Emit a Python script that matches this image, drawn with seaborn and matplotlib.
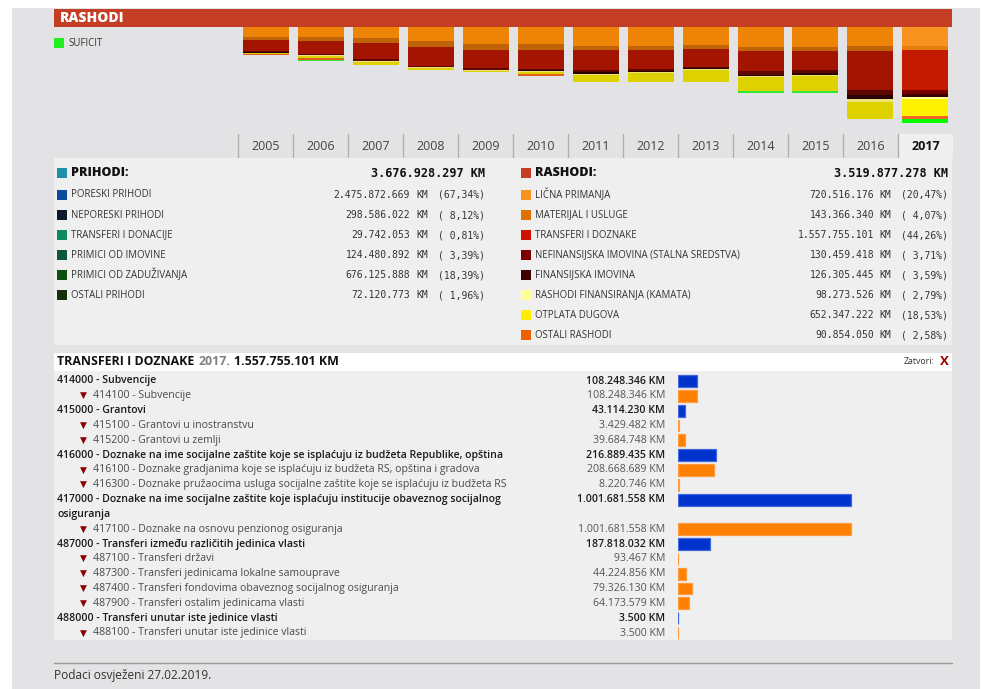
import numpy as np
import pandas as pd
import matplotlib
matplotlib.use("Agg")
import matplotlib.pyplot as plt
from matplotlib.patches import Rectangle
from matplotlib.lines import Line2D
import seaborn as sns

# ---------------- data ----------------
years = ["2005", "2006", "2007", "2008", "2009", "2010", "2011",
         "2012", "2013", "2014", "2015", "2016", "2017"]
selected_year = "2017"

# expenditure components per year (billion KM), stacked top -> bottom
licna_primanja = [0.37, 0.37, 0.43, 0.52, 0.65, 0.65, 0.72, 0.73, 0.69, 0.755, 0.755, 0.715, 0.7205]
materijal = [0.13, 0.15, 0.19, 0.23, 0.23, 0.23, 0.165, 0.16, 0.15, 0.15, 0.15, 0.19, 0.1434]
transferi = [0.42, 0.52, 0.61, 0.73, 0.71, 0.73, 0.75, 0.73, 0.70, 0.78, 0.74, 1.505, 1.5578]
nefinansijska = [0.05, 0.04, 0.065, 0.04, 0.05, 0.05, 0.10, 0.08, 0.05, 0.15, 0.115, 0.19, 0.1305]
finansijska = [0.01, 0.01, 0.02, 0.01, 0.01, 0.03, 0.06, 0.03, 0.015, 0.04, 0.06, 0.165, 0.1263]
kamata = [0.02, 0.03, 0.04, 0.04, 0.03, 0.03, 0.04, 0.04, 0.04, 0.05, 0.06, 0.09, 0.0983]
otplata = [0.03, 0.05, 0.10, 0.065, 0.05, 0.065, 0.29, 0.345, 0.45, 0.52, 0.575, 0.665, 0.6523]
ostali = [0.05, 0.08, 0.01, 0.0, 0.0, 0.10, 0.0, 0.0, 0.0, 0.0, 0.0, 0.0, 0.0909]
suficit = [0.0, 0.04, 0.0, 0.0, 0.0, 0.0, 0.0, 0.0, 0.0, 0.065, 0.065, 0.0, 0.1571]

prihodi_labels = ["PORESKI PRIHODI", "NEPORESKI PRIHODI", "TRANSFERI I DONACIJE",
                  "PRIMICI OD IMOVINE", "PRIMICI OD ZADUŽIVANJA", "OSTALI PRIHODI"]
prihodi_values = [2475872669, 298586022, 29742053, 124480892, 676125888, 72120773]

rashodi_labels = ["LIČNA PRIMANJA", "MATERIJAL I USLUGE", "TRANSFERI I DOZNAKE",
                  "NEFINANSIJSKA IMOVINA (STALNA SREDSTVA)", "FINANSIJSKA IMOVINA",
                  "RASHODI FINANSIRANJA (KAMATA)", "OTPLATA DUGOVA", "OSTALI RASHODI"]
rashodi_values = [720516176, 143366340, 1557755101, 130459418, 126305445,
                  98273526, 652347222, 90854050]

detail_title = "TRANSFERI I DOZNAKE"
detail_total = 1557755101
tr_labels = [
    "414000 - Subvencije",
    "414100 - Subvencije",
    "415000 - Grantovi",
    "415100 - Grantovi u inostranstvu",
    "415200 - Grantovi u zemlji",
    "416000 - Doznake na ime socijalne zaštite koje se isplaćuju iz budžeta Republike, opština",
    "416100 - Doznake gradjanima koje se isplaćuju iz budžeta RS, opština i gradova",
    "416300 - Doznake pružaocima usluga socijalne zaštite koje se isplaćuju iz budžeta RS",
    "417000 - Doznake na ime socijalne zaštite koje isplaćuju institucije obaveznog socijalnog\nosiguranja",
    "417100 - Doznake na osnovu penzionog osiguranja",
    "487000 - Transferi između različitih jedinica vlasti",
    "487100 - Transferi državi",
    "487300 - Transferi jedinicama lokalne samouprave",
    "487400 - Transferi fondovima obaveznog socijalnog osiguranja",
    "487900 - Transferi ostalim jedinicama vlasti",
    "488000 - Transferi unutar iste jedinice vlasti",
    "488100 - Transferi unutar iste jedinice vlasti",
]
tr_values = [108248346, 108248346, 43114230, 3429482, 39684748, 216889435, 208668689,
             8220746, 1001681558, 1001681558, 187818032, 93467, 44224856, 79326130,
             64173579, 3500, 3500]
tr_levels = ["group", "item", "group", "item", "item", "group", "item", "item",
             "group", "item", "group", "item", "item", "item", "item", "group", "item"]

# ---------------- style ----------------
sns.set_theme(style="white")
plt.rcParams["font.family"] = ["Open Sans", "DejaVu Sans"]
MONO = ["DejaVu Sans Mono"]

W, H = 982, 689
fig = plt.figure(figsize=(W / 100, H / 100), dpi=100)
fig.patch.set_facecolor("white")


def fx(x):
    return x / W


def fy(y):
    return 1 - y / H


def rect(x0, y0, x1, y1, color, z=-5):
    fig.patches.append(Rectangle((fx(x0), fy(y1)), (x1 - x0) / W, (y1 - y0) / H,
                                 transform=fig.transFigure, facecolor=color,
                                 edgecolor="none", zorder=z))


def ftext(x, y, s, **kw):
    kw.setdefault("va", "center")
    return fig.text(fx(x), fy(y), s, **kw)


def fmt(v):
    return f"{v:,}".replace(",", ".")


def pct(v, tot):
    p = f"{v / tot * 100:5.2f}".replace(".", ",")
    return f"({p}%)"


# background panels
rect(12, 8, 980, 689, "#e3e3e5", z=-10)
rect(54, 9, 952, 27, "#c43e25")
ftext(60, 18.5, "RASHODI", color="white", fontsize=10, fontweight="heavy")
rect(54, 38, 64, 48, "#22ee22")
ftext(68, 43.5, "SUFICIT", color="#333333", fontsize=6.9)

# ---------------- top stacked bars ----------------
comps = [licna_primanja, materijal, transferi, nefinansijska, finansijska,
         kamata, otplata, ostali, suficit]
dim_colors = ["#ee8406", "#bf6208", "#a31500", "#5e0600", "#2a0000",
              "#ece27a", "#ddd200", "#e0601a", "#33e633"]
sel_colors = ["#f7931e", "#e57c10", "#c41a00", "#7a0000", "#3a0000",
              "#ffff99", "#fff200", "#f26522", "#00ff00"]
cum = np.cumsum(np.array(comps), axis=0)
px_per_bn = 26.1
top_y0, top_y1 = 27, 132
axt = fig.add_axes([fx(238), fy(top_y1), 715 / W, (top_y1 - top_y0) / H])
for k in reversed(range(len(comps))):
    dfk = pd.DataFrame({"year": years, "cum": cum[k]})
    pal = {y: (sel_colors[k] if y == selected_year else dim_colors[k]) for y in years}
    sns.barplot(data=dfk, x="year", y="cum", hue="year", palette=pal, order=years,
                hue_order=years, legend=False, width=46 / 55, errorbar=None,
                linewidth=0, ax=axt, saturation=1)
axt.set_xlim(-0.5, len(years) - 0.5)
axt.set_ylim((top_y1 - top_y0) / px_per_bn, 0)
axt.axis("off")
axt.patch.set_alpha(0)

# year row
rect(898, 134, 953, 158, "#efefef")
for i, y in enumerate(years):
    xl = 238 + 55 * i
    fig.add_artist(Line2D([fx(xl), fx(xl)], [fy(134), fy(157)], color="#b0b0b0", lw=1))
    sel = y == selected_year
    ftext(xl + 27.5, 146, y, ha="center", fontsize=9,
          color="#111111" if sel else "#444444", fontweight="bold" if sel else "normal")

# ---------------- summary panel ----------------
rect(54, 158, 952, 345, "#efefef")
tot_p = sum(prihodi_values)
tot_r = sum(rashodi_values)
prih_colors = ["#0b4c9c", "#0c1a2e", "#0e8a62", "#0a5a3a", "#0b5010", "#15300a"]
rash_colors = ["#f7931e", "#de7000", "#cc1100", "#7b0000", "#3d0000", "#ffff99",
               "#ffee00", "#ef6000"]
LAB_FS = 6.9

rect(57, 168, 67, 178, "#1e90a8", z=-4)
ftext(71, 173.5, "PRIHODI:", fontsize=9, fontweight="heavy", color="#111111")
ftext(485, 173.5, fmt(tot_p) + " KM", ha="right", fontsize=8.6, fontweight="bold",
      family=MONO, color="#111111")
for i, (lab, v) in enumerate(zip(prihodi_labels, prihodi_values)):
    yy = 195 + 20 * i
    rect(57, yy - 5, 67, yy + 5, prih_colors[i], z=-4)
    ftext(71, yy, lab, fontsize=LAB_FS, color="#333333")
    ftext(410, yy, fmt(v), ha="right", fontsize=7, family=MONO, color="#333333")
    ftext(416, yy, "KM", ha="left", fontsize=7, family=MONO, color="#333333")
    ftext(485, yy, pct(v, tot_p), ha="right", fontsize=7, family=MONO, color="#333333")

rect(521, 168, 531, 178, "#c43e25", z=-4)
ftext(535, 173.5, "RASHODI:", fontsize=9, fontweight="heavy", color="#111111")
ftext(948, 173.5, fmt(tot_r) + " KM", ha="right", fontsize=8.6, fontweight="bold",
      family=MONO, color="#111111")
for i, (lab, v) in enumerate(zip(rashodi_labels, rashodi_values)):
    yy = 195 + 20 * i
    rect(521, yy - 5, 531, yy + 5, rash_colors[i], z=-4)
    ftext(535, yy, lab, fontsize=LAB_FS, color="#333333")
    ftext(874, yy, fmt(v), ha="right", fontsize=7, family=MONO, color="#333333")
    ftext(879, yy, "KM", ha="left", fontsize=7, family=MONO, color="#333333")
    ftext(948, yy, pct(v, tot_r), ha="right", fontsize=7, family=MONO, color="#333333")

# ---------------- detail panel ----------------
rect(54, 353, 952, 371, "white")
rect(54, 371, 952, 640, "#efefef")
renderer = fig.canvas.get_renderer()
x = 57
for s, c in [(detail_title, "#111111"), (selected_year + ".", "#808080"),
             (fmt(detail_total) + " KM", "#111111")]:
    t = ftext(x, 362, s, fontsize=8.9, fontweight="bold", color=c)
    bb = t.get_window_extent(renderer)
    x = bb.x1 / fig.dpi * 100 + 4
ftext(934, 362, "Zatvori:", ha="right", fontsize=6.3, color="#333333")
ftext(944.5, 362, "X", ha="center", fontsize=9.5, fontweight="bold", color="#a00000")

slots = []
s_ = 0
for lab in tr_labels:
    slots.append(s_)
    s_ += 1 + lab.count("\n")
n_slots = s_
row0, row_h = 381, (633 - 381) / (n_slots - 1)
ROW_FS = 7.55

for lab, v, lev, sl in zip(tr_labels, tr_values, tr_levels, slots):
    yy = row0 + sl * row_h
    grp = lev == "group"
    lines = lab.split("\n")
    for j, line in enumerate(lines):
        if grp:
            ftext(57, yy + j * row_h, line, fontsize=ROW_FS, fontweight="semibold",
                  color="#1a1a1a")
        else:
            ftext(80, yy, "▼", fontsize=6.5, color="#8b0000", family=["DejaVu Sans"])
            ftext(93, yy + j * row_h, line, fontsize=ROW_FS, color="#4a4a4a")
    ftext(665, yy, fmt(v) + " KM", ha="right", fontsize=ROW_FS,
          fontweight="semibold" if grp else "normal",
          color="#1a1a1a" if grp else "#555555")

df_tr = pd.DataFrame({"slot": [f"s{k:02d}" for k in slots],
                      "val": np.array(tr_values) / 1e9,
                      "level": tr_levels})
order = [f"s{k:02d}" for k in range(n_slots)]
bar_px_per_bn = 173.0
yt, yb = row0 - row_h / 2, 633 + row_h / 2
axb = fig.add_axes([fx(678), fy(yb), (952 - 678) / W, (yb - yt) / H])
sns.barplot(data=df_tr, x="val", y="slot", hue="level", order=order,
            palette={"group": "#0033cc", "item": "#ff8000"}, dodge=False,
            legend=False, width=0.8, errorbar=None, orient="h", ax=axb, saturation=1)
for p in axb.patches:
    fc = p.get_facecolor()
    p.set_edgecolor("#4466dd" if fc[2] > 0.5 else "#ff9a40")
    p.set_linewidth(0.9)
axb.set_xlim(0, (952 - 678) / bar_px_per_bn)
axb.set_ylim(n_slots - 0.5, -0.5)
axb.axis("off")
axb.patch.set_alpha(0)

# footer
fig.add_artist(Line2D([fx(54), fx(952)], [fy(663), fy(663)], color="#999999", lw=1))
ftext(54, 675, "Podaci osvježeni 27.02.2019.", fontsize=8.6, color="#333333")

fig.savefig("out.png", dpi=100, facecolor="white")
